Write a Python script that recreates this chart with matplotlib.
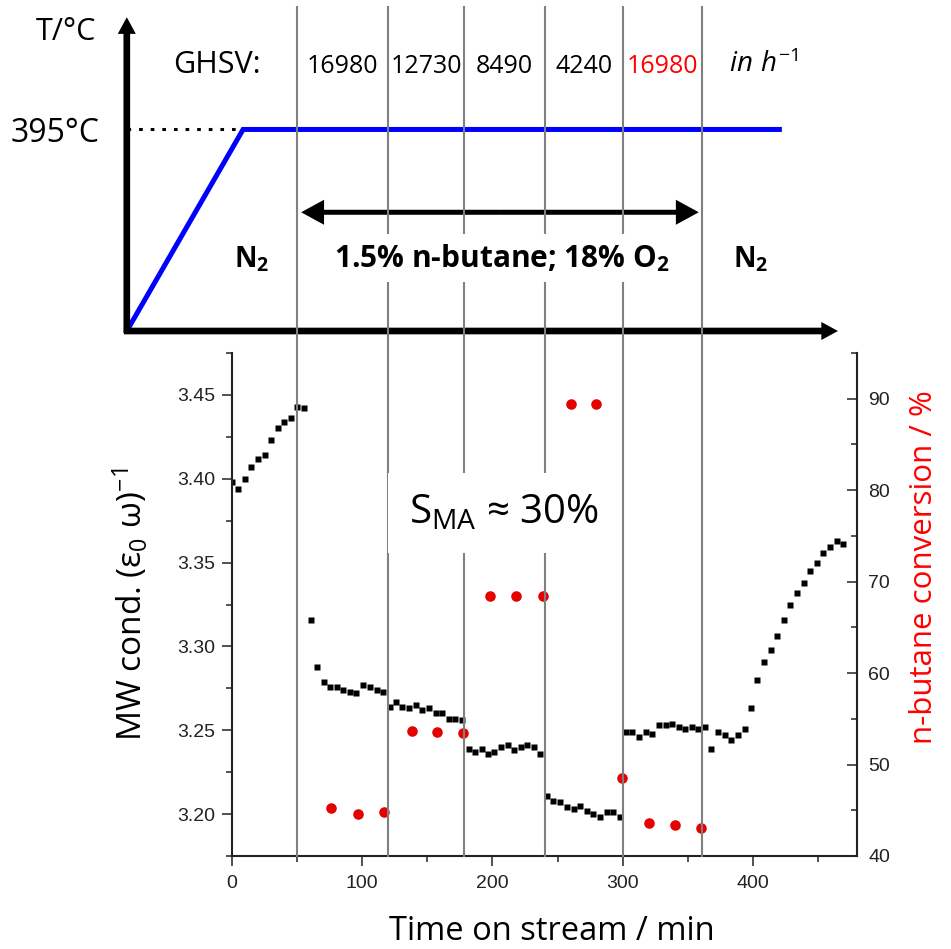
import matplotlib
matplotlib.use('Agg')
import matplotlib.pyplot as plt
from matplotlib.ticker import MultipleLocator, FormatStrFormatter

plt.rcParams['font.family'] = ['Open Sans', 'DejaVu Sans']
plt.rcParams['mathtext.fontset'] = 'custom'
plt.rcParams['mathtext.rm'] = 'Open Sans'
plt.rcParams['mathtext.it'] = 'Open Sans:italic'
plt.rcParams['mathtext.bf'] = 'Open Sans:bold'

# MW conductivity, black squares (left axis)
mw_t = [0.2, 4.9, 10.0, 14.9, 20.0, 25.1, 30.2, 35.1, 40.2, 45.4, 50.2, 55.4,
        60.5, 65.4, 70.5, 75.6, 80.8, 85.6, 90.8, 95.6, 100.8, 105.9, 111.0, 115.9,
        121.0, 125.6, 130.8, 136.2, 141.0, 146.2, 151.3, 156.4, 161.3, 166.4, 171.5, 176.7,
        181.8, 186.9, 191.8, 196.7, 201.5, 206.7, 211.8, 216.9, 221.8, 226.7, 231.8, 236.9,
        242.0, 246.9, 252.0, 257.2, 262.3, 267.4, 272.5, 277.4, 282.6, 287.7, 292.6, 297.7,
        302.3, 307.4, 312.6, 317.7, 322.8, 327.9, 333.1, 337.9, 343.1, 347.9, 353.1, 358.2, 363.3,
        368.2, 373.3, 378.5, 383.3, 388.5, 393.6, 398.5, 403.3, 408.5, 413.6, 418.5, 423.6,
        428.7, 433.8, 439.0, 443.8, 449.0, 454.1, 459.2, 464.4, 469.2]
mw_val = [3.398, 3.394, 3.400, 3.407, 3.412, 3.414, 3.423, 3.430, 3.434, 3.436, 3.443, 3.442,
          3.316, 3.288, 3.279, 3.276, 3.276, 3.274, 3.273, 3.272, 3.277, 3.276, 3.274, 3.273,
          3.264, 3.267, 3.264, 3.263, 3.265, 3.262, 3.263, 3.260, 3.260, 3.257, 3.257, 3.256,
          3.239, 3.237, 3.239, 3.236, 3.237, 3.240, 3.241, 3.238, 3.240, 3.241, 3.240, 3.236,
          3.211, 3.208, 3.207, 3.204, 3.203, 3.205, 3.202, 3.200, 3.198, 3.201, 3.201, 3.198,
          3.249, 3.249, 3.246, 3.249, 3.248, 3.253, 3.253, 3.254, 3.252, 3.251, 3.252, 3.251, 3.252,
          3.239, 3.249, 3.247, 3.244, 3.247, 3.251, 3.263, 3.280, 3.291, 3.298, 3.306, 3.316,
          3.325, 3.332, 3.338, 3.345, 3.350, 3.356, 3.359, 3.363, 3.361]

# n-butane conversion, red dots (right axis)
conv_t = [76.2, 96.4, 116.9, 137.9, 157.7, 177.7, 198.5, 218.2, 238.7,
          260.0, 279.2, 299.7, 320.5, 340.3, 360.2]
conv_val = [45.2, 44.6, 44.8, 53.7, 53.6, 53.5, 68.4, 68.4, 68.4,
            89.4, 89.4, 48.5, 43.6, 43.4, 43.1]

# gas switching times and space velocities
switch_t = [50, 120, 178, 240, 300, 361]
ghsv = ['16980', '12730', '8490', '4240', '16980']
ghsv_col = ['black', 'black', 'black', 'black', '#ff0000']

# temperature programme (schematic)
prog_t = [-80.8, 8.5, 422.3]
prog_T = [0, 395, 395]

W, H = 951, 949
fig = plt.figure(figsize=(W / 100, H / 100), dpi=100)

ax = fig.add_axes([232 / W, 1 - 856 / H, 625 / W, 503 / H])
ax2 = ax.twinx()

ax.plot(mw_t, mw_val, 's', color='black', ms=4.6, mec='none')
ax2.plot(conv_t, conv_val, 'o', color='#e60000', ms=7.6, mec='none')

ax.set_xlim(0, 480)
ax.set_ylim(3.175, 3.475)
ax2.set_ylim(40, 95)
ax.set_xticks([0, 100, 200, 300, 400])
ax.xaxis.set_minor_locator(MultipleLocator(50))
ax.set_yticks([3.20, 3.25, 3.30, 3.35, 3.40, 3.45])
ax.yaxis.set_minor_locator(MultipleLocator(0.025))
ax.yaxis.set_major_formatter(FormatStrFormatter('%.2f'))
ax2.set_yticks([40, 50, 60, 70, 80, 90])
ax2.yaxis.set_minor_locator(MultipleLocator(5))

ax.spines[['top', 'right']].set_visible(False)
ax2.spines[['top', 'left', 'bottom']].set_visible(False)
for sp in ['left', 'bottom']:
    ax.spines[sp].set_linewidth(1.5)
    ax.spines[sp].set_color('#222222')
ax2.spines['right'].set_linewidth(1.5)
ax2.spines['right'].set_color('#222222')

for a in (ax, ax2):
    for lab in a.get_xticklabels() + a.get_yticklabels():
        lab.set_fontfamily('Liberation Sans')
ax.tick_params(which='major', length=7.5, width=1.1, labelsize=14, colors='#222222')
ax.tick_params(which='minor', length=4, width=1.1, colors='#222222')
ax.tick_params(axis='x', pad=6.5)
ax.tick_params(axis='y', pad=4.5)
ax2.tick_params(which='major', direction='in', length=7.5, width=1.1, labelsize=14,
                pad=8, colors='#222222')
ax2.tick_params(which='minor', direction='in', length=4, width=1.1, colors='#222222')

ax.set_xlabel('Time on stream / min', fontsize=23.5)
ax.xaxis.set_label_coords(0.512, -0.118)
ax.set_ylabel(r'MW cond. ($\mathrm{\varepsilon_0}\ \mathrm{\omega}$)$^{-1}$', fontsize=24)
ax.yaxis.set_label_coords(-0.13, 0.5)
ax2.set_ylabel('n-butane conversion / %', fontsize=22.5, color='#ff0000')
ax2.yaxis.set_label_coords(1.083, 0.574)

# schematic of the temperature programme, sharing the time axis
sch = fig.add_axes([232 / W, 1 - 331 / H, 625 / W, 324 / H])
sch.set_xlim(ax.get_xlim())
sch.set_ylim(0, 635)
sch.axis('off')

sch.plot(prog_t, prog_T, color='#0000ff', lw=3.6, solid_joinstyle='miter',
         solid_capstyle='butt', clip_on=False, zorder=1)
sch.plot(prog_t[:2], [prog_T[1], prog_T[1]], color='black', lw=2.2, dashes=(1.2, 2.6),
         clip_on=False, zorder=1)

axis_style = 'simple,head_length=12,head_width=13,tail_width=4.8'
sch.annotate('', xy=(465.4, 0), xytext=(prog_t[0] - 2.2, 0),
             arrowprops=dict(arrowstyle=axis_style, mutation_scale=1, fc='black', ec='none',
                             shrinkA=0, shrinkB=0), annotation_clip=False, zorder=1)
sch.annotate('', xy=(prog_t[0], 615), xytext=(prog_t[0], -4),
             arrowprops=dict(arrowstyle=axis_style, mutation_scale=1, fc='black', ec='none',
                             shrinkA=0, shrinkB=0), annotation_clip=False, zorder=1)

feed_span = (53.1, 358.5)
mid = sum(feed_span) / 2
for end in feed_span:
    sch.annotate('', xy=(end, 232.7), xytext=(mid, 232.7),
                 arrowprops=dict(arrowstyle='simple,head_length=16.5,head_width=18,tail_width=3.6',
                                 mutation_scale=1, fc='black', ec='none', shrinkA=0, shrinkB=0),
                 annotation_clip=False, zorder=1)

for t in switch_t:
    sch.axvline(t, ymin=-1.62, ymax=1.0, color='#808080', lw=1.5, clip_on=False, zorder=2)

sch.text(-127.7, 570, 'T/°C', ha='center', va='baseline', fontsize=22, zorder=3)
sch.text(-101.5, 371, '395°C', ha='right', va='baseline', fontsize=23, zorder=3)
sch.text(-11.2, 506, 'GHSV:', ha='center', va='baseline', fontsize=22, zorder=3)
for i, (g, c) in enumerate(zip(ghsv, ghsv_col)):
    sch.text((switch_t[i] + switch_t[i + 1]) / 2, 506, g, color=c, ha='center',
             va='baseline', fontsize=18, zorder=3)
sch.text(408.5, 508, r'$\mathit{in\ h^{-1}}$', ha='center', va='baseline', fontsize=20, zorder=3)

sch.text(15.4, 126, r'$\mathbf{N_2}$', ha='center', va='baseline', fontsize=20, zorder=3)
sch.text(398.5, 126, r'$\mathbf{N_2}$', ha='center', va='baseline', fontsize=20, zorder=3)
sch.text(207, 126, r'1.5% n-butane; 18% O$_\mathbf{2}$', fontweight='bold', ha='center',
         va='baseline', fontsize=21.5, zorder=3,
         bbox=dict(boxstyle='square,pad=0.28', fc='white', ec='none'))

sch.text(208.5, 3.3735, r'S$_\mathrm{MA}$ ≈ 30%', transform=ax.transData, ha='center',
         va='baseline', fontsize=29, zorder=3,
         bbox=dict(boxstyle='square,pad=0.5', fc='white', ec='none'))

fig.savefig('out.png', dpi=100)
